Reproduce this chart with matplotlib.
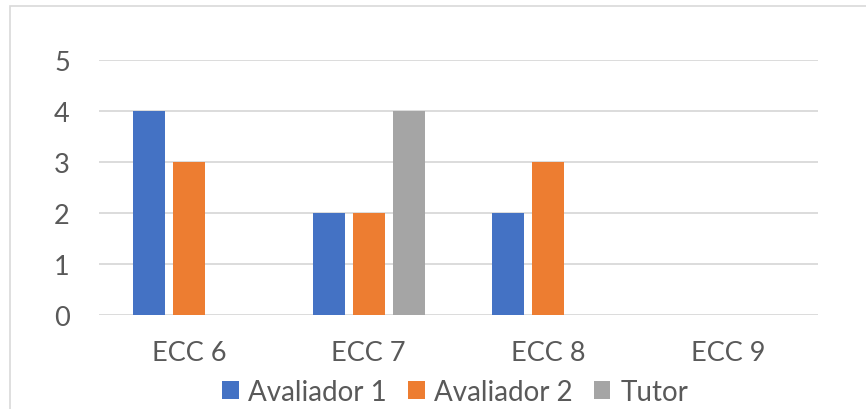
import matplotlib
matplotlib.use('Agg')
import matplotlib.pyplot as plt
from matplotlib.patches import Rectangle
import numpy as np

categories = ['ECC 6', 'ECC 7', 'ECC 8', 'ECC 9']
avaliador_1 = [4, 2, 2, 0]
avaliador_2 = [3, 2, 3, 0]
tutor = [0, 4, 0, 0]
series_names = ['Avaliador 1', 'Avaliador 2', 'Tutor']

COLORS = ['#4472C4', '#ED7D31', '#A5A5A5']
GRID = '#D9D9D9'
TEXT = '#595959'

plt.rcParams['font.family'] = ['Lato', 'DejaVu Sans']

W, H = 866, 410
fig = plt.figure(figsize=(W / 100, H / 100), dpi=100)
fig.patch.set_facecolor('white')

# chart frame, cut off on the right and bottom
fig.patches.append(Rectangle((10 / W, -0.1), 1.2, 1 - 7 / H + 0.1,
                             transform=fig.transFigure, fill=False,
                             edgecolor=GRID, linewidth=1.2))

ax = fig.add_axes([99 / W, 1 - 316 / H, (818 - 99) / W, (316 - 61) / H])
x = np.arange(len(categories))
step = 0.2225
width = 0.178
for i, (vals, name) in enumerate(zip([avaliador_1, avaliador_2, tutor], series_names)):
    ax.bar(x + (i - 1) * step, vals, width, color=COLORS[i], label=name, zorder=3)

ax.set_xlim(-0.5, len(categories) - 0.5)
ax.set_ylim(0, 5)
ax.set_yticks(range(0, 6))
ax.set_xticks(x)
ax.set_xticklabels(categories)
ax.yaxis.grid(True, color=GRID, linewidth=1.3, zorder=0)
ax.set_axisbelow(True)
for s in ax.spines.values():
    s.set_visible(False)
ax.tick_params(axis='both', length=0, labelsize=19.5, colors=TEXT)
ax.tick_params(axis='y', pad=21)
ax.tick_params(axis='x', pad=18)

leg = fig.legend(loc='center', bbox_to_anchor=(455 / W, 1 - 393 / H), ncol=3,
                 frameon=False, fontsize=20, handlelength=0.6, handleheight=0.6,
                 handletextpad=0.35, columnspacing=0.75, borderaxespad=0)
for t in leg.get_texts():
    t.set_color(TEXT)

fig.savefig('out.png', dpi=100, facecolor='white')
